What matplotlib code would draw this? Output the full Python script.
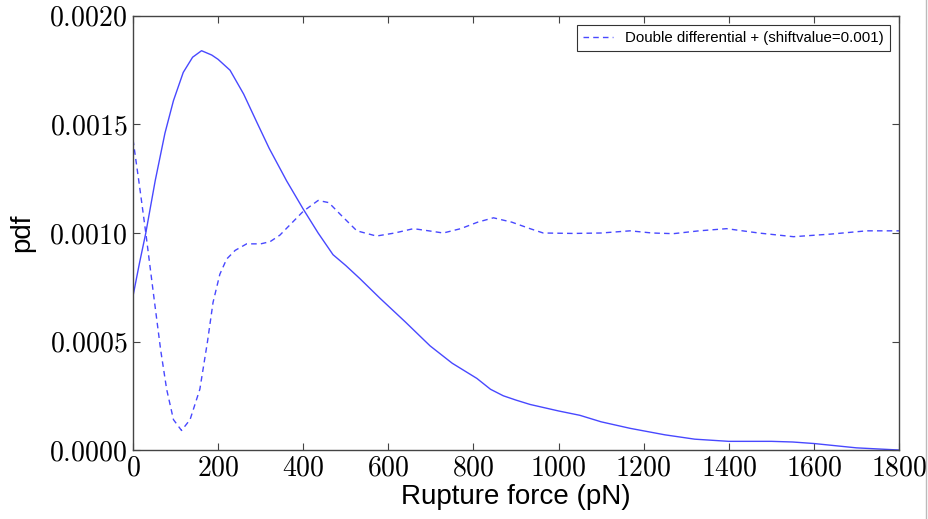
import matplotlib
matplotlib.use("Agg")
import matplotlib.pyplot as plt
from matplotlib.lines import Line2D
from matplotlib.ticker import FuncFormatter

# rupture force (pN) and pdf values
force_pdf = [0, 15, 30, 52, 75, 95, 118, 140, 161, 185, 200, 228, 260, 291,
             320, 361, 400, 435, 470, 500, 533, 580, 640, 698, 750, 808, 840,
             870, 900, 933, 1000, 1050, 1100, 1168, 1250, 1320, 1400, 1500,
             1550, 1600, 1700, 1800]
pdf = [0.00071, 0.00086, 0.00100, 0.00124, 0.00146, 0.00161, 0.00174,
       0.00181, 0.00184, 0.00182, 0.00180, 0.00175, 0.00164, 0.00151,
       0.00139, 0.00124, 0.00111, 0.00100, 0.00090, 0.00085, 0.00079,
       0.00070, 0.00059, 0.00048, 0.00040, 0.00033, 0.00028, 0.00025,
       0.00023, 0.00021, 0.00018, 0.00016, 0.00013, 0.00010, 0.00007,
       0.00005, 0.00004, 0.00004, 0.000037, 0.00003, 0.00001, 0.00000]

force_dd = [0, 15, 30, 48, 65, 79, 95, 114, 134, 157, 175, 188, 204, 220, 240,
            267, 300, 322, 345, 375, 400, 435, 460, 490, 526, 572, 615, 659,
            695, 729, 770, 810, 847, 890, 933, 964, 1035, 1100, 1168, 1220,
            1270, 1330, 1395, 1470, 1552, 1640, 1724, 1800]
double_diff = [0.00143, 0.00122, 0.00100, 0.00072, 0.00046, 0.00028, 0.00014,
               0.00009, 0.00014, 0.00028, 0.00050, 0.00068, 0.00081, 0.00088,
               0.00092, 0.00095, 0.00095, 0.00096, 0.00099, 0.00105, 0.00110,
               0.00115, 0.00114, 0.00108, 0.00101, 0.000986, 0.00100, 0.00102,
               0.00101, 0.00100, 0.00102, 0.00105, 0.00107, 0.00105, 0.00102,
               0.00100, 0.000998, 0.00100, 0.00101, 0.00100, 0.000997,
               0.00101, 0.00102, 0.00100, 0.000983, 0.000995, 0.00101, 0.00101]

x_ticks = [0, 200, 400, 600, 800, 1000, 1200, 1400, 1600, 1800]
y_ticks = [0.0, 0.0005, 0.0010, 0.0015, 0.0020]

plt.rcParams["mathtext.fontset"] = "cm"
plt.rcParams["font.family"] = ["Liberation Sans", "DejaVu Sans"]

LINE_COLOR = "#4848ff"

fig = plt.figure(figsize=(9.29, 5.19), dpi=100)
ax = fig.add_axes([0.1432, 0.1329, 0.8245, 0.8363])

ax.plot(force_pdf, pdf, color=LINE_COLOR, linewidth=1.0)
ax.plot(force_dd, double_diff, color=LINE_COLOR, linewidth=1.0, linestyle="--",
        dashes=(4, 3), label="Double differential + (shiftvalue=0.001)")

ax.set_xlim(0, 1800)
ax.set_ylim(0, 0.002)
ax.set_xticks(x_ticks)
ax.set_yticks(y_ticks)
ax.xaxis.set_major_formatter(FuncFormatter(lambda v, p: f"${v:.0f}$"))
ax.yaxis.set_major_formatter(FuncFormatter(lambda v, p: f"${v:.4f}$"))
ax.tick_params(direction="in", top=True, right=True, length=5, width=0.8,
               labelsize=20, color="#444444", pad=4)
for s in ax.spines.values():
    s.set_color("#444444")
    s.set_linewidth(1.0)

ax.set_xlabel("Rupture force (pN)", fontsize=20, labelpad=2)
ax.set_ylabel("pdf", fontsize=20, labelpad=10)

leg = ax.legend(loc="upper right", fontsize=10.8, fancybox=False,
                handlelength=2.0, borderaxespad=0.6)
leg.get_frame().set_edgecolor("black")
leg.get_frame().set_linewidth(0.8)

# thin grey border line at the right edge of the image
fig.add_artist(Line2D([926 / 929, 926 / 929], [0, 1], color="#bbbbbb",
                      linewidth=1.0, transform=fig.transFigure))

fig.savefig("out.png", dpi=100)
